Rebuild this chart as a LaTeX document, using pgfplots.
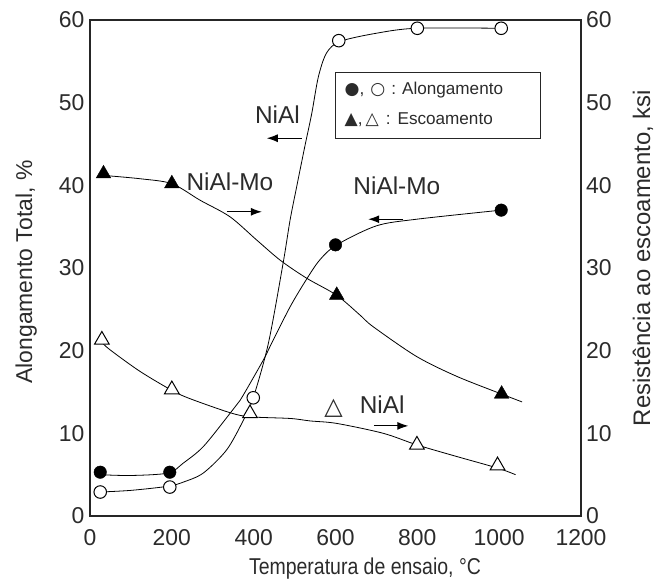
\documentclass[border=0pt]{standalone}
\usepackage{pgfplots}
\pgfplotsset{compat=1.18}
\usetikzlibrary{arrows.meta}
\usepackage{fontspec}
\setmainfont{Liberation Sans}
\newfontfamily\symfont{DejaVu Sans}
\definecolor{txt}{HTML}{2B2B2B}

\pgfplotsset{
  common/.style={
    at={(0,0)}, anchor=south west,
    scale only axis, width=491bp, height=496bp,
    xmin=0, xmax=1200, ymin=0, ymax=60,
    xtick={0,200,...,1200}, ytick={0,10,...,60},
    major tick length=0pt,
    axis line style={line width=1.1pt, black!85},
    tick label style={font=\fontsize{23}{27}\selectfont, text=txt},
    label style={text=txt},
    /pgf/number format/assume math mode=true,
    /pgf/number format/1000 sep={},
    clip=false,
  },
  curve/.style={black, line width=0.8pt, smooth, no markers},
}

\begin{document}
\begin{tikzpicture}
\useasboundingbox (-90bp,-67bp) rectangle (565bp,516bp);
\begin{axis}[common,
  xlabel={Temperatura de ensaio, °C},
  ylabel={Alongamento Total, \%},
  xticklabel style={yshift=-10bp},
  yticklabel style={xshift=-2bp},
  xlabel style={at={(axis description cs:0.560,-0.107)}, anchor=center, font=\fontsize{23}{27}\selectfont, xscale=0.85},
  ylabel style={at={(axis description cs:-0.130,0.492)}, anchor=center, font=\fontsize{23}{27}\selectfont},
]
% NiAl elongation (open circles) curve
\addplot[curve] coordinates {(24,2.9) (100,3.1) (191,3.6) (228,4.1) (277,5.2) (334,8.0) (375,11.6) (399,14.3) (436,20.9) (472,30.6) (489,35.8) (505,39.8) (525,44.7) (542,48.7) (558,53.1) (578,56.0) (611,57.4) (700,58.4) (798,59.0) (1005,59.0)};
% NiAl-Mo elongation (filled circles) curve
\addplot[curve] coordinates {(24,5.0) (100,4.9) (191,5.2) (228,6.4) (277,8.4) (342,12.4) (367,14.0) (424,18.9) (440,20.5) (489,25.3) (530,28.7) (562,31.0) (603,32.8) (700,35.1) (798,35.9) (1005,37.0)};
% markers
\addplot[only marks, mark=*, mark size=6.3pt, black] coordinates {(25,5.3) (195,5.3) (600,32.8) (1005,37.0)};
\addplot[only marks, mark=*, mark size=6.3pt, black, line width=1pt, mark options={fill=white}] coordinates {(25,2.9) (195,3.5) (399,14.3) (608,57.5) (800,59.0) (1005,59.0)};

% annotations
\node[font=\fontsize{24.5}{28}\selectfont, text=txt] at (axis cs:458,48.6) {NiAl};
\draw[line width=1pt, -{Latex[length=11bp,width=8bp]}] (axis cs:517,45.7) -- (axis cs:432,45.7);
\node[font=\fontsize{24.5}{28}\selectfont, text=txt] at (axis cs:342,40.4) {NiAl-Mo};
\draw[line width=1pt, -{Latex[length=11bp,width=8bp]}] (axis cs:334,36.8) -- (axis cs:420,36.8);
\node[font=\fontsize{24.5}{28}\selectfont, text=txt] at (axis cs:750,40.0) {NiAl-Mo};
\draw[line width=1pt, -{Latex[length=11bp,width=8bp]}] (axis cs:766,35.9) -- (axis cs:680,35.9);
\node[font=\fontsize{24.5}{28}\selectfont, text=txt] at (axis cs:714,13.5) {NiAl};
\node[font=\symfont\fontsize{24}{28}\selectfont, text=txt] at (axis cs:595,13.0) {△};
\draw[line width=1pt, -{Latex[length=11bp,width=8bp]}] (axis cs:694,10.9) -- (axis cs:778,10.9);

% legend box
\draw[line width=1pt, black!85] (axis cs:601,53.7) rectangle (axis cs:1100,45.7);
\node[anchor=west, font=\fontsize{17.2}{21}\selectfont, text=txt, inner sep=0pt] at (axis cs:622,51.5) {{\symfont ●},\hspace{6bp}{\symfont ○}\hspace{6bp}:\hspace{6bp}Alongamento};
\node[anchor=west, font=\fontsize{17.2}{21}\selectfont, text=txt, inner sep=0pt] at (axis cs:622,47.9) {{\symfont ▲},\hspace{3bp}{\symfont △}\hspace{7bp}:\hspace{7bp}Escoamento};
\end{axis}

\begin{axis}[common,
  axis x line=none, axis y line*=right,
  ylabel={Resistência ao escoamento, ksi},
  yticklabel style={xshift=1.5bp},
  ylabel style={at={(axis description cs:1.126,0.52)}, anchor=center, font=\fontsize{24}{28}\selectfont},
]
% NiAl-Mo yield (filled triangles)
\addplot[curve] coordinates {(33,41.2) (122,40.8) (200,40.2) (269,38.2) (342,36.2) (407,33.4) (466,30.9) (530,28.75) (603,26.7) (660,24.3) (692,22.9) (798,19.3) (896,16.9) (1006,14.75) (1056,13.8)};
% NiAl yield (open triangles)
\addplot[curve] coordinates {(29,21.0) (49,20.1) (122,17.5) (200,15.2) (244,14.2) (342,12.5) (391,12.0) (489,11.8) (538,11.5) (603,11.2) (717,10.0) (799,8.6) (896,7.2) (996,5.8) (1040,5.0)};
\addplot[only marks, mark=triangle*, mark size=8.5pt, black] coordinates {(33,41.4) (200,40.2) (603,26.7) (1006,14.75)};
\addplot[only marks, mark=triangle*, mark size=8.5pt, black, line width=1pt, mark options={fill=white}] coordinates {(29,21.3) (200,15.3) (391,12.4) (799,8.6) (996,6.1)};
\end{axis}
\end{tikzpicture}
\end{document}
